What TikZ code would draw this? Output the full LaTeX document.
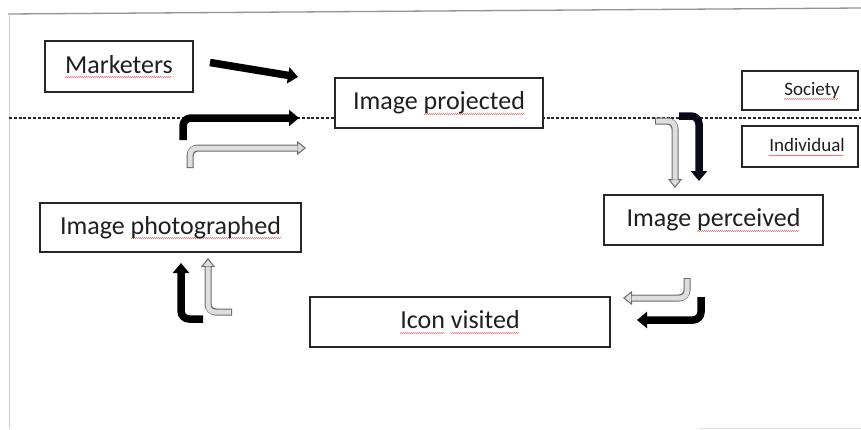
\documentclass[tikz,border=0pt]{standalone}
\usepackage{fontspec}
\setmainfont{Carlito}
\usetikzlibrary{arrows.meta}
\newcommand\spell[1]{\setbox0\hbox{#1}\rlap{\hbox to \wd0{\color{red!55}\leaders\hbox{\rule[-4.6pt]{1pt}{0.7pt}\rule[-3.9pt]{1pt}{0.7pt}}\hfill}}\box0\relax}
\definecolor{txt}{gray}{0.12}
\definecolor{hollowfill}{gray}{0.87}
\definecolor{hollowline}{gray}{0.42}
\tikzset{
  box/.style={draw=black!85, line width=1.3pt, fill=white, inner sep=0pt, text=txt, font=\fontsize{26}{30}\selectfont},
  smallbox/.style={draw=black!85, line width=1.3pt, fill=white, inner sep=0pt},
  smalltext/.style={text=txt, font=\fontsize{19}{22}\selectfont, inner sep=0pt},
  blk/.style={line width=7.5pt, black, rounded corners=8pt, -{Triangle[length=10pt,width=16pt]}},
  hout/.style={line width=7pt, hollowline, rounded corners=8pt, -{Triangle[length=9pt,width=14pt,fill=hollowfill,line width=1pt]}},
  hin/.style={line width=5pt, hollowfill, rounded corners=7pt, shorten <=1pt, shorten >=8.5pt},
}
\newcommand\hollowarrow[1]{\draw[hout] #1; \draw[hin] #1;}
\begin{document}
\begin{tikzpicture}[x=1pt,y=-1pt]
\useasboundingbox (0,0) rectangle (861,429);
\fill[white] (0,0) rectangle (861,429);
% frame lines
\coordinate (tl) at (8,14);
\coordinate (tr) at (861,8);
\coordinate (bl) at (9,429);
\draw[gray!85, line width=1.3pt] (tl) -- (tr);
\draw[gray!40, line width=0.8pt] (9,14) -- (bl);
\draw[gray!25, line width=1pt] (700,428) -- (861,428);
% dashed divider
\coordinate (dl) at (9,118);
\coordinate (dr) at (861,118);
\draw[black!85, line width=1.1pt, dash pattern=on 3pt off 1.8pt] (dl) -- (dr);
% boxes
\node[box, minimum width=148pt, minimum height=51pt] (mk) at (119,66.5) {\spell{Marketers}};
\node[box, minimum width=208pt, minimum height=50pt] (ip) at (439,103) {Image \spell{projected}};
\node[smallbox, minimum width=116pt, minimum height=39pt] (soc) at (800,90.5) {};
\node[smalltext] (soct) at (812,91) {\spell{Society}};
\node[smallbox, minimum width=116pt, minimum height=41pt] (ind) at (800,146.5) {};
\node[smalltext] (indt) at (807,147) {\spell{Individual}};
\node[box, minimum width=219pt, minimum height=50pt] (pc) at (713.5,220) {Image \spell{perceived}};
\node[box, minimum width=261pt, minimum height=49pt] (ph) at (170.5,227.5) {Image \spell{photographed}};
\node[box, minimum width=300pt, minimum height=50pt] (iv) at (460,322) {\spell{Icon} \spell{visited}};
% arrow end points
\coordinate (a1s) at (210,62.5);  \coordinate (a1e) at (298,77);
\coordinate (a2s) at (183,140); \coordinate (a2e) at (299,118);
\coordinate (a3s) at (190,168); \coordinate (a3e) at (306,148);
\coordinate (a4s) at (655,121); \coordinate (a4e) at (675,188);
\coordinate (a5s) at (679,116); \coordinate (a5e) at (699,181);
\coordinate (a6s) at (687,278); \coordinate (a6e) at (623,298);
\coordinate (a7s) at (701,297); \coordinate (a7e) at (637,320);
\coordinate (a8s) at (203,319); \coordinate (a8e) at (181,263);
\coordinate (a9s) at (232,312); \coordinate (a9e) at (208,258);
% arrows
\draw[blk, rounded corners=0pt] (a1s) -- (a1e);
\draw[blk] (a2s) |- (a2e);
\hollowarrow{(a3s) |- (a3e)}
\hollowarrow{(a4s) -| (a4e)}
\draw[blk, draw={rgb,1:red,0.03;green,0.04;blue,0.1}] (a5s) -| (a5e);
\hollowarrow{(a6s) |- (a6e)}
\draw[blk] (a7s) |- (a7e);
\draw[blk] (a8s) -| (a8e);
\hollowarrow{(a9s) -| (a9e)}
\end{tikzpicture}
\end{document}
